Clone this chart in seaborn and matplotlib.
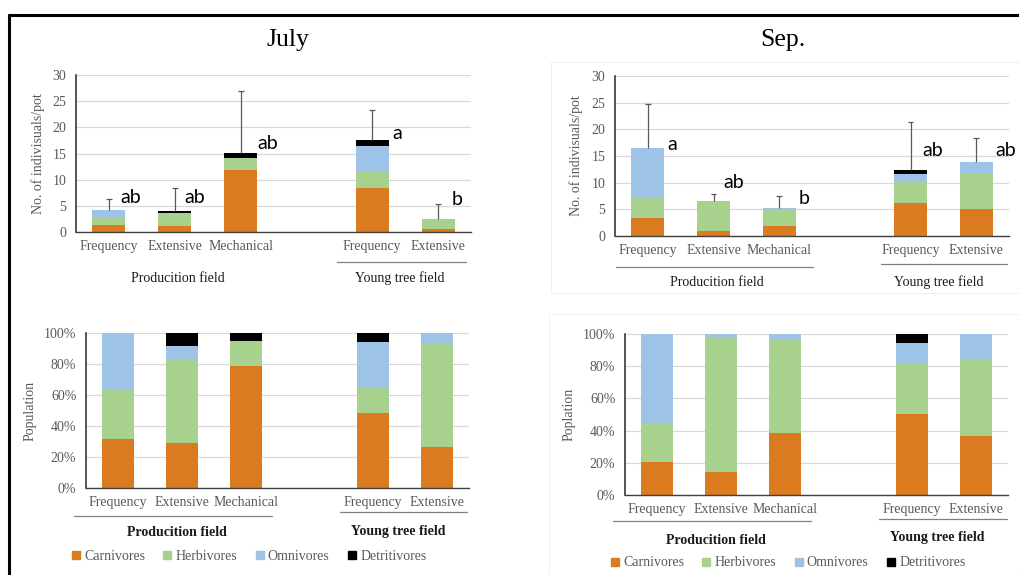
import numpy as np
import pandas as pd
import matplotlib
matplotlib.use("Agg")
import matplotlib.pyplot as plt
from matplotlib.lines import Line2D
from matplotlib.patches import Rectangle
from matplotlib.ticker import PercentFormatter
import seaborn as sns

sns.set_theme(style="white")
plt.rcParams["font.family"] = ["Liberation Serif", "DejaVu Serif"]

W, H = 1019, 575

# slots 0,1,2 = production field, 4,5 = young tree field (slot 3 stays empty)
positions = [0, 1, 2, 4, 5]
treatments = ["Frequency", "Extensive", "Mechanical", "Frequency", "Extensive"]
guilds = ["Carnivores", "Herbivores", "Omnivores", "Detritivores"]
guild_colors = ["#DA7B1F", "#A9D18E", "#9DC3E6", "#000000"]

# No. of individuals/pot, stacked segments
july_carn = [1.27, 1.15, 11.85, 8.5, 0.65]
july_herb = [1.40, 2.20, 2.25, 3.0, 1.65]
july_omni = [1.46, 0.27, 0.05, 5.0, 0.15]
july_detr = [0.0, 0.38, 0.90, 1.0, 0.0]
july_sd = [2.2, 4.45, 11.9, 5.9, 2.95]
july_letters = ["ab", "ab", "ab", "a", "b"]
july_letter_y = [6.5, 6.5, 17.0, 18.9, 6.3]

sep_carn = [3.32, 0.90, 1.90, 6.2, 5.0]
sep_herb = [3.88, 5.55, 3.10, 3.88, 6.6]
sep_omni = [9.30, 0.10, 0.18, 1.62, 2.2]
sep_detr = [0.0, 0.0, 0.0, 0.70, 0.0]
sep_sd = [8.2, 1.3, 2.25, 9.0, 4.6]
sep_letters = ["a", "ab", "b", "ab", "ab"]
sep_letter_y = [17.2, 10.0, 7.0, 16.0, 16.0]

# population share (%)
july_pct_carn = [31.5, 28.9, 79.0, 48.4, 26.3]
july_pct_herb = [32.2, 54.3, 15.6, 17.0, 67.0]
july_pct_omni = [36.3, 8.2, 0.2, 28.8, 6.7]
july_pct_detr = [0.0, 8.6, 5.2, 5.8, 0.0]

sep_pct_carn = [20.3, 14.5, 38.3, 50.3, 36.9]
sep_pct_herb = [23.6, 83.4, 58.6, 31.3, 47.6]
sep_pct_omni = [56.1, 2.1, 3.1, 13.0, 15.5]
sep_pct_detr = [0.0, 0.0, 0.0, 5.4, 0.0]


def px(x, y):
    return x / W, 1 - y / H


def stacked(ax, layers):
    cum = np.cumsum(np.array(layers), axis=0)
    df = pd.DataFrame({"pos": positions})
    for i in range(len(guilds) - 1, -1, -1):
        df["top"] = cum[i]
        sns.barplot(data=df, x="pos", y="top", native_scale=True, width=0.5,
                    color=guild_colors[i], saturation=1, linewidth=0,
                    errorbar=None, ax=ax)
    return cum[-1]


def style(ax, ylabel, label_x):
    ax.set_xlim(-0.5, 5.5)
    ax.set_xticks(positions, treatments)
    ax.set_xlabel("")
    ax.set_ylabel(ylabel, fontsize=10, color="#595959")
    ax.yaxis.set_label_coords(label_x, 0.5)
    ax.yaxis.grid(True, color="#D9D9D9", lw=0.9)
    ax.set_axisbelow(True)
    for s in ["top", "right"]:
        ax.spines[s].set_visible(False)
    ax.spines["left"].set_color("#262626")
    ax.spines["left"].set_linewidth(1.1)
    ax.spines["bottom"].set_color("#404040")
    ax.spines["bottom"].set_linewidth(1.0)
    ax.tick_params(axis="x", length=0, pad=6, labelsize=10, labelcolor="#595959")
    ax.tick_params(axis="y", length=0, pad=7, labelsize=10, labelcolor="#595959")


fig = plt.figure(figsize=(W / 100, H / 100), dpi=100)

ax_tl = fig.add_axes([76 / W, 1 - 232 / H, 395 / W, 157 / H])
ax_tr = fig.add_axes([615 / W, 1 - 236 / H, 394 / W, 160 / H])
ax_bl = fig.add_axes([86 / W, 1 - 488 / H, 383 / W, 155 / H])
ax_br = fig.add_axes([625 / W, 1 - 495 / H, 383 / W, 161 / H])

# counts
july_offsets = [0.18, 0.14, 0.26, 0.30, 0.21]
sep_offsets = [0.30, 0.15, 0.30, 0.18, 0.29]
for ax, layers, sd, letters, ly, offs, lx in [
    (ax_tl, [july_carn, july_herb, july_omni, july_detr], july_sd, july_letters, july_letter_y, july_offsets, -0.078),
    (ax_tr, [sep_carn, sep_herb, sep_omni, sep_detr], sep_sd, sep_letters, sep_letter_y, sep_offsets, -0.081),
]:
    total = stacked(ax, layers)
    top = total + np.array(sd)
    # upper error bar only: stem from stack top + small cap
    ax.vlines(positions, total, top, color="#595959", lw=0.9, zorder=5)
    ax.hlines(top, np.array(positions) - 0.045, np.array(positions) + 0.045,
              color="#595959", lw=0.9, zorder=5)
    for p, t, y, o in zip(positions, letters, ly, offs):
        ax.text(p + o, y, t, family="Lato", fontsize=14, va="center", ha="left", color="black")
    ax.set_ylim(0, 30)
    ax.set_yticks(range(0, 31, 5))
    style(ax, "No. of indivisuals/pot", lx)

# percentages
for ax, layers, ylab in [
    (ax_bl, [july_pct_carn, july_pct_herb, july_pct_omni, july_pct_detr], "Population"),
    (ax_br, [sep_pct_carn, sep_pct_herb, sep_pct_omni, sep_pct_detr], "Poplation"),
]:
    stacked(ax, layers)
    ax.set_ylim(0, 100)
    ax.set_yticks(range(0, 101, 20))
    ax.yaxis.set_major_formatter(PercentFormatter(decimals=0))
    style(ax, ylab, -0.128)

# titles
fig.text(*px(288, 40), "July", fontsize=18.5, ha="center", va="center", color="black")
fig.text(*px(783, 40), "Sep.", fontsize=18.5, ha="center", va="center", color="black")

# group underlines
for x0, x1, y in [(337, 466, 262), (616, 813, 267), (881, 1007, 264),
                  (74, 272, 516), (340, 467, 512), (613, 811, 521), (879, 1007, 519)]:
    fig.add_artist(Line2D([x0 / W, x1 / W], [1 - y / H, 1 - y / H], color="#7F7F7F", lw=0.9))

# group labels
for x, y, t, w in [(178, 279, "Producition field", "normal"), (400, 278, "Young tree field", "normal"),
                   (717, 283, "Producition field", "normal"), (939, 282, "Young tree field", "normal"),
                   (177, 533, "Producition field", "bold"), (398, 532, "Young tree field", "bold"),
                   (716, 540, "Producition field", "bold"), (937, 538, "Young tree field", "bold")]:
    fig.text(*px(x, y), t, fontsize=10, ha="center", va="center", color="#1a1a1a", fontweight=w)

# legends
handles = [Line2D([], [], marker="s", ls="none", markersize=5.5, color=c) for c in guild_colors]
for cx, cy in [(249, 556), (788, 563)]:
    fig.legend(handles, guilds, loc="center", bbox_to_anchor=px(cx, cy), ncol=4,
               frameon=False, fontsize=10, labelcolor="#595959", handlelength=0.6,
               handletextpad=0.3, columnspacing=1.3, borderpad=0)

# faint chart-area frames and outer black border
fig.add_artist(Rectangle(px(551, 293), (W - 551) / W, 231 / H, fill=False, ec="#F0F0F0", lw=0.8))
fig.add_artist(Rectangle(px(549, 575), (W - 549) / W, 261 / H, fill=False, ec="#F0F0F0", lw=0.8))
fig.add_artist(Line2D([9 / W, 1], [1 - 15 / H, 1 - 15 / H], color="black", lw=2.2))
fig.add_artist(Line2D([9 / W, 9 / W], [0, 1 - 15 / H], color="black", lw=2.2))

fig.savefig("out.png", dpi=100)
